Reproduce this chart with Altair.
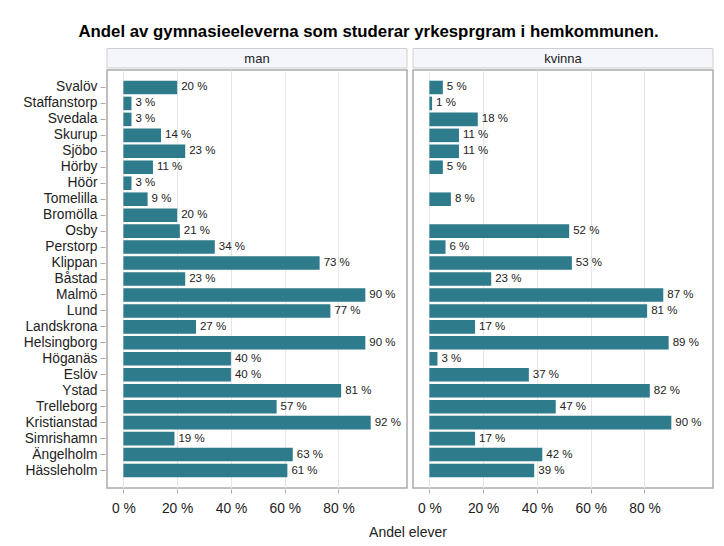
import altair as alt
import pandas as pd

kommuner = ["Svalöv", "Staffanstorp", "Svedala", "Skurup", "Sjöbo", "Hörby", "Höör",
            "Tomelilla", "Bromölla", "Osby", "Perstorp", "Klippan", "Båstad", "Malmö",
            "Lund", "Landskrona", "Helsingborg", "Höganäs", "Eslöv", "Ystad",
            "Trelleborg", "Kristianstad", "Simrishamn", "Ängelholm", "Hässleholm"]
man = [20, 3, 3, 14, 23, 11, 3, 9, 20, 21, 34, 73, 23, 90, 77, 27, 90, 40, 40, 81,
       57, 92, 19, 63, 61]
kvinna = [5, 1, 18, 11, 11, 5, None, 8, None, 52, 6, 53, 23, 87, 81, 17, 89, 3, 37,
          82, 47, 90, 17, 42, 39]
kon_order = ["man", "kvinna"]
x_ticks = [0, 20, 40, 60, 80]

rows = []
for k, m, f in zip(kommuner, man, kvinna):
    rows.append({"kommun": k, "kon": "man", "andel": m})
    rows.append({"kommun": k, "kon": "kvinna", "andel": f})
df = pd.DataFrame(rows)

W = 300
H = 418
GAP = 2
FONT = "Liberation Sans"
BAR = "#2e7b8c"

y_enc = alt.Y("kommun:N", sort=kommuner, title=None,
              scale=alt.Scale(domain=kommuner, paddingInner=0.15, paddingOuter=0.67),
              axis=alt.Axis(tickSize=5, labelPadding=3))
x_enc = alt.X("andel:Q", title=None,
              scale=alt.Scale(domain=[-6.1, 105.5], nice=False, zero=False),
              axis=alt.Axis(values=x_ticks, labelExpr="datum.value + ' %'"))

base = alt.Chart().transform_filter("isValid(datum.andel)")

bars = base.mark_bar(color=BAR).encode(y=y_enc, x=x_enc, x2=alt.datum(0))

labels = base.transform_calculate(
    lab="format(datum.andel, 'd') + ' %'"
).mark_text(align="left", baseline="middle", dx=4, fontSize=11.5, font=FONT,
            color="#222222").encode(
    y=alt.Y("kommun:N", sort=kommuner),
    x=alt.X("andel:Q"),
    text="lab:N",
)

strip_rect = alt.Chart().transform_aggregate(
    n="count()", groupby=["kon"]
).mark_rect(fill="#f4f6fc", stroke="#cfcfcf", strokeWidth=1).encode(
    x=alt.value(0), x2=alt.value(W), y=alt.value(-21.5), y2=alt.value(-2)
)

strip_text = alt.Chart().transform_aggregate(
    n="count()", groupby=["kon"]
).mark_text(fontSize=13, font=FONT, color="#222222", baseline="middle").encode(
    x=alt.value(W / 2), y=alt.value(-11.5), text="kon:N"
)

layered = alt.layer(bars, labels, strip_rect, strip_text, data=df).properties(
    width=W, height=H
)

inner = layered.facet(
    column=alt.Column("kon:N", sort=kon_order,
                      header=alt.Header(labels=False, title=None)),
    spacing=GAP,
).properties(
    title=alt.Title("Andel elever", orient="bottom", anchor="middle", frame="group",
                    fontSize=14, font=FONT, fontWeight="normal", color="#222222",
                    offset=11, dx=W + GAP / 2),
)

chart = alt.vconcat(inner).properties(
    title=alt.Title("Andel av gymnasieeleverna som studerar yrkesprgram i hemkommunen.",
                    fontSize=16.8, font=FONT, fontWeight="bold", color="#000000",
                    anchor="middle", offset=6),
    padding={"left": 14, "top": 16, "right": 0, "bottom": 0},
).configure_view(
    stroke="#aaaaaa", strokeWidth=1.5
).configure_axis(
    labelFont=FONT, titleFont=FONT, labelColor="#222222", titleColor="#222222",
    labelFontSize=13.8, titleFontSize=14, titleFontWeight="normal",
    gridColor="#e6e6e6", gridWidth=1, tickColor="#aaaaaa", domain=False,
).configure_axisX(
    grid=True, tickSize=4, labelPadding=8,
).configure_axisY(
    grid=False,
)

chart.save("out.html", embed_options={"renderer": "svg", "actions": False})
